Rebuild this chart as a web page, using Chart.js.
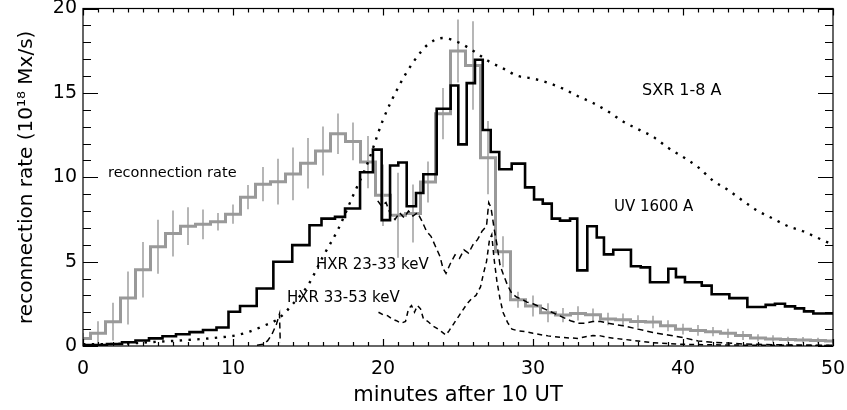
<!DOCTYPE html>
<html>
<head>
<meta charset="utf-8">
<script src="https://cdn.jsdelivr.net/npm/chart.js@4.4.1/dist/chart.umd.min.js"></script>
<style>
  html, body { margin: 0; padding: 0; background: #fff; }
  #wrap { width: 847px; height: 410px; }
</style>
</head>
<body>
<div id="wrap"><canvas id="flareChart" width="847" height="410"></canvas></div>
<script>
// reconnection rate (grey histogram, one value per minute) and its error bars
var rrTime = [0, 1, 2, 3, 4, 5, 6, 7, 8, 9, 10, 11, 12, 13, 14, 15, 16, 17, 18, 19, 20, 21, 22, 23, 24, 25,
              26, 27, 28, 29, 30, 31, 32, 33, 34, 35, 36, 37, 38, 39, 40, 41, 42, 43, 44, 45, 46, 47, 48, 49, 50];
var rrValue = [0.45, 0.75, 1.44, 2.84, 4.52, 5.88, 6.67, 7.10, 7.21, 7.36, 7.81, 8.82, 9.59, 9.74, 10.2, 10.83,
               11.56, 12.58, 12.12, 10.9, 8.93, 7.75, 7.85, 9.72, 13.77, 17.48, 16.62, 11.16, 5.58, 2.74, 2.37,
               1.97, 1.83, 1.93, 1.85, 1.60, 1.55, 1.45, 1.42, 1.20, 1.00, 0.92, 0.85, 0.75, 0.62, 0.48, 0.42,
               0.38, 0.36, 0.32, 0.30];
var rrError = [0.3, 0.7, 1.1, 1.55, 1.63, 1.58, 1.34, 1.1, 0.86, 0.5, 0.55, 0.7, 1.0, 1.33, 1.55, 1.48, 1.43,
               1.18, 1.1, 1.53, 1.8, 2.5, 1.7, 1.2, 1.5, 1.85, 2.6, 2.15, 0.9, 0.45, 0.6, 0.55, 0.4, 0.4, 0.35,
               0.35, 0.35, 0.35, 0.35, 0.3, 0.3, 0.3, 0.25, 0.25, 0.25, 0.2, 0.2, 0.15, 0.15, 0.15, 0.1];

// UV 1600 A (black histogram, irregular bins: start time of each bin)
var uvTime = [0, 1.6, 2.6, 3.5, 4.4, 5.3, 6.2, 7.1, 8.0, 8.9, 9.7, 10.47, 11.58, 12.69, 13.95, 15.1, 15.9,
              16.8, 17.47, 18.47, 19.33, 19.91, 20.47, 21.02, 21.58, 22.2, 22.69, 23.58, 24.51, 25.02, 25.58,
              26.13, 26.65, 27.18, 27.75, 28.58, 29.47, 30.07, 30.65, 31.25, 31.8, 32.47, 32.95, 33.62, 34.25,
              34.73, 35.35, 36.53, 37.18, 37.8, 39.02, 39.53, 40.13, 41.25, 41.91, 43.09, 44.29, 45.51, 46.13,
              46.8, 47.47, 48.07, 48.69, 49.35, 50];
var uvValue = [0.02, 0.05, 0.12, 0.22, 0.33, 0.45, 0.58, 0.70, 0.82, 0.95, 1.1, 2.03, 2.37, 3.41, 4.99, 5.98,
               7.16, 7.55, 7.65, 8.15, 10.3, 11.64, 7.46, 10.7, 10.87, 8.28, 9.07, 10.18, 14.06, 15.44, 11.95,
               15.58, 16.96, 12.8, 11.5, 10.47, 10.81, 9.4, 8.68, 8.44, 7.55, 7.43, 7.55, 4.48, 7.1, 6.43, 5.43,
               5.7, 4.73, 4.66, 3.78, 4.58, 4.08, 3.78, 3.58, 3.07, 2.84, 2.31, 2.44, 2.5, 2.35, 2.23, 2.05,
               1.93, 1.93];

// SXR 1-8 A (dotted)
var sxrTime = [0, 1, 2, 3, 4, 5, 6, 7, 8, 9, 10, 11, 12, 13, 14, 15, 16, 17, 18, 19, 20, 21, 22, 23, 24, 25,
               26, 27, 28, 29, 30, 31, 32, 33, 34, 35, 36, 37, 38, 39, 40, 41, 42, 43, 44, 45, 46, 47, 48, 49, 50];
var sxrValue = [0.1, 0.1, 0.12, 0.15, 0.2, 0.25, 0.3, 0.36, 0.42, 0.5, 0.6, 0.82, 1.18, 1.6, 2.5, 3.6, 5.3,
                6.9, 8.9, 10.9, 13.4, 15.3, 16.8, 17.87, 18.25, 18.0, 17.5, 16.9, 16.45, 16.0, 15.85, 15.6,
                15.25, 14.8, 14.4, 13.9, 13.3, 12.85, 12.4, 11.75, 11.2, 10.6, 9.8, 9.25, 8.6, 8.0, 7.55, 7.1,
                6.8, 6.4, 6.0];

// HXR 23-33 keV (dashed)
var hxrLowTime = [11.6, 12.0, 12.3, 12.6, 12.9, 13.1, 13.15, 13.2, 19.65, 19.9, 20.2, 20.5, 20.8, 21.1, 21.4,
                  21.7, 22.0, 22.3, 22.6, 22.9, 23.2, 23.5, 23.8, 24.0, 24.2, 24.5, 24.8, 25.1, 25.4, 25.7,
                  26.0, 26.3, 26.6, 26.9, 27.05, 27.2, 27.4, 27.6, 27.8, 28.0, 28.3, 28.6, 28.9, 29.3, 29.6,
                  30, 30.5, 31, 31.5, 32, 32.5, 33, 33.5, 34, 34.5, 35, 36, 37, 38, 39, 40, 41, 42, 43, 44,
                  45, 46, 47, 48, 49, 50];
var hxrLowValue = [0.05, 0.1, 0.3, 0.7, 1.3, 1.9, 0.2, null, 8.6, 8.3, 8.5, 7.8, 7.5, 7.9, 7.6, 8.0, 7.7, 7.9,
                   7.4, 6.8, 6.5, 5.9, 5.3, 4.6, 4.3, 4.9, 5.4, 5.2, 5.7, 5.5, 6.0, 6.3, 6.8, 7.1, 8.5, 8.2,
                   7.0, 6.0, 4.8, 4.3, 3.6, 3.1, 2.9, 2.75, 2.6, 2.5, 2.3, 2.1, 1.9, 1.7, 1.5, 1.35, 1.35, 1.45,
                   1.45, 1.35, 1.2, 1.0, 0.8, 0.65, 0.5, 0.3, 0.22, 0.18, 0.12, 0.1, 0.08, 0.06, 0.05, 0.05, 0.05];

// HXR 33-53 keV (dashed)
var hxrHighTime = [19.7, 20.0, 20.3, 20.6, 20.9, 21.2, 21.5, 21.7, 21.9, 22.1, 22.3, 22.5, 22.7, 23.0, 23.3,
                   23.6, 23.9, 24.2, 24.4, 24.7, 25.0, 25.3, 25.6, 25.9, 26.2, 26.5, 26.7, 26.9, 27.1, 27.25,
                   27.4, 27.6, 27.8, 28.0, 28.3, 28.6, 29.0, 29.5, 30, 31, 32, 33, 33.5, 34, 34.5, 35, 36, 37,
                   38, 39, 40, 42, 44, 46, 48, 50];
var hxrHighValue = [2.0, 1.85, 1.8, 1.6, 1.5, 1.35, 1.45, 2.2, 2.4, 2.0, 2.4, 2.2, 1.6, 1.45, 1.2, 1.05, 0.85,
                    0.65, 0.9, 1.3, 1.7, 2.1, 2.5, 2.8, 3.0, 3.5, 4.3, 5.0, 6.3, 6.6, 5.2, 3.8, 2.8, 2.0, 1.4,
                    1.0, 0.9, 0.85, 0.75, 0.6, 0.5, 0.45, 0.55, 0.62, 0.6, 0.5, 0.4, 0.3, 0.2, 0.15, 0.1, 0.07,
                    0.05, 0.04, 0.04, 0.03];

var xTicks = [0, 10, 20, 30, 40, 50];
var yTicks = [0, 5, 10, 15, 20];

// text written inside the plot, placed in data units
var plotLabels = [
    { text: 'reconnection rate', t: 1.67, v: 10.24, size: 14.5 },
    { text: 'SXR 1-8 A', t: 37.27, v: 15.15, size: 16 },
    { text: 'UV 1600 A', t: 35.4, v: 8.22, size: 15 },
    { text: 'HXR 23-33 keV', t: 15.53, v: 4.79, size: 15 },
    { text: 'HXR 33-53 keV', t: 13.6, v: 2.84, size: 15 }
];

function pairs(xs, ys) {
    return xs.map(function(x, i) { return { x: x, y: ys[i] }; });
}

var fontFamily = '"DejaVu Sans", sans-serif';
Chart.defaults.font.family = fontFamily;
Chart.defaults.color = '#000';

// frame with inward IDL-style tick marks, and the plot labels
var framePlugin = {
    id: 'frame',
    afterDatasetsDraw: function(chart) {
        var ctx = chart.ctx;
        var a = chart.chartArea;
        var xs = chart.scales.x, ys = chart.scales.y;
        ctx.save();
        ctx.strokeStyle = '#000';
        ctx.lineWidth = 1.2;
        ctx.strokeRect(a.left, a.top, a.right - a.left, a.bottom - a.top);
        ctx.beginPath();
        for (var t = xs.min; t <= xs.max; t++) {
            var px = Math.round(xs.getPixelForValue(t)) + 0.5;
            var len = (t % 10 === 0) ? 7 : 4;
            ctx.moveTo(px, a.bottom); ctx.lineTo(px, a.bottom - len);
            ctx.moveTo(px, a.top); ctx.lineTo(px, a.top + len);
        }
        for (var v = ys.min; v <= ys.max; v++) {
            var py = Math.round(ys.getPixelForValue(v)) + 0.5;
            var l2 = (v % 5 === 0) ? 15 : 8;
            ctx.moveTo(a.left, py); ctx.lineTo(a.left + l2, py);
            ctx.moveTo(a.right, py); ctx.lineTo(a.right - l2, py);
        }
        ctx.stroke();

        ctx.fillStyle = '#000';
        ctx.textBaseline = 'middle';
        ctx.textAlign = 'left';
        plotLabels.forEach(function(lb) {
            ctx.font = lb.size + 'px ' + fontFamily;
            ctx.fillText(lb.text, xs.getPixelForValue(lb.t), ys.getPixelForValue(lb.v));
        });
        ctx.restore();
    }
};

var ctx = document.getElementById('flareChart').getContext('2d');
var flareChart = new Chart(ctx, {
    type: 'line',
    data: {
        datasets: [
            {
                type: 'bar',
                label: 'error',
                data: rrTime.map(function(t, i) { return { x: t, y: [rrValue[i] - rrError[i], rrValue[i] + rrError[i]] }; }),
                backgroundColor: '#a8a8a8',
                borderWidth: 0,
                barThickness: 1,
                grouped: false,
                order: 6
            },
            {
                label: 'reconnection rate',
                data: pairs(rrTime, rrValue),
                borderColor: '#999999',
                borderWidth: 3,
                stepped: 'middle',
                pointRadius: 0,
                order: 5
            },
            {
                label: 'UV 1600 A',
                data: pairs(uvTime, uvValue),
                borderColor: '#000',
                borderWidth: 2.6,
                stepped: 'after',
                pointRadius: 0,
                order: 3
            },
            {
                label: 'SXR 1-8 A',
                data: pairs(sxrTime, sxrValue),
                borderColor: '#000',
                borderWidth: 2.4,
                borderDash: [2.4, 6.4],
                cubicInterpolationMode: 'monotone',
                pointRadius: 0,
                order: 2
            },
            {
                label: 'HXR 23-33 keV',
                data: pairs(hxrLowTime, hxrLowValue),
                borderColor: '#000',
                borderWidth: 1.5,
                borderDash: [6, 4],
                spanGaps: false,
                pointRadius: 0,
                order: 1
            },
            {
                label: 'HXR 33-53 keV',
                data: pairs(hxrHighTime, hxrHighValue),
                borderColor: '#000',
                borderWidth: 1.5,
                borderDash: [5, 4],
                pointRadius: 0,
                order: 1
            }
        ]
    },
    options: {
        responsive: false,
        animation: false,
        devicePixelRatio: 1,
        layout: { padding: { top: 8.5, right: 14, left: 0, bottom: 0 } },
        plugins: {
            legend: { display: false },
            tooltip: { enabled: false }
        },
        scales: {
            x: {
                type: 'linear',
                min: 0,
                max: 50,
                offset: false,
                afterFit: function(s) { s.height = 64; s.paddingLeft = 0; s.paddingRight = 0; },
                afterBuildTicks: function(s) { s.ticks = xTicks.map(function(v) { return { value: v }; }); },
                grid: { display: false, drawTicks: false },
                border: { display: false },
                ticks: { font: { size: 19 }, padding: 12, maxRotation: 0 },
                title: {
                    display: true,
                    text: 'minutes after 10 UT',
                    font: { size: 21 },
                    padding: { top: 0, bottom: 2 }
                }
            },
            y: {
                type: 'linear',
                min: 0,
                max: 20,
                afterFit: function(s) { s.width = 83; s.paddingTop = 0; s.paddingBottom = 0; },
                afterBuildTicks: function(s) { s.ticks = yTicks.map(function(v) { return { value: v }; }); },
                grid: { display: false, drawTicks: false },
                border: { display: false },
                ticks: { font: { size: 19 }, padding: 6 },
                title: {
                    display: true,
                    text: 'reconnection rate (10¹⁸ Mx/s)',
                    font: { size: 20 },
                    padding: { top: 15, bottom: 0 }
                }
            }
        }
    },
    plugins: [framePlugin]
});
</script>
</body>
</html>
